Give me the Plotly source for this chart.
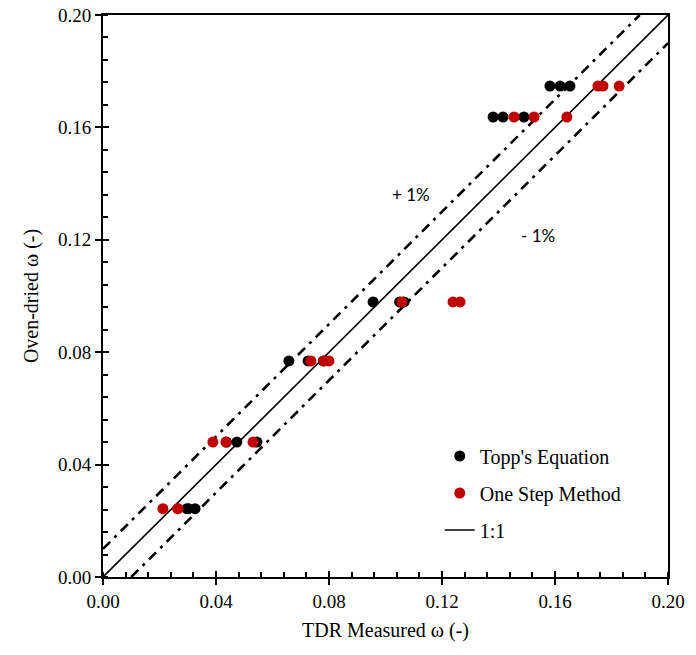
import plotly.graph_objects as go

# Oven-dried water content levels (y) for each sample group
oven_levels = [0.1747, 0.1637, 0.0979, 0.0769, 0.0480, 0.0243]

# TDR measured values, Topp's equation (3 per level)
topp_x = [
    0.1582, 0.1618, 0.1653,
    0.1381, 0.1416, 0.1490,
    0.0956, 0.1050, 0.1066,
    0.0658, 0.0726, 0.0780,
    0.0437, 0.0474, 0.0545,
    0.0297, 0.0303, 0.0326,
]
# TDR measured values, One Step Method (3 per level)
osm_x = [
    0.1752, 0.1770, 0.1827,
    0.1455, 0.1526, 0.1642,
    0.1058, 0.1239, 0.1264,
    0.0736, 0.0782, 0.0800,
    0.0389, 0.0435, 0.0531,
    0.0212, 0.0265, 0.0265,
]
topp_y = [v for v in oven_levels for _ in range(3)]
osm_y = [v for v in oven_levels for _ in range(3)]

axis_min, axis_max = 0.0, 0.20
band = 0.01
tick_vals = [0.00, 0.04, 0.08, 0.12, 0.16, 0.20]

serif = "'Liberation Serif', 'Times New Roman', Times, 'DejaVu Serif', serif"
BLACK = "#000000"
RED = "#C00000"

fig = go.Figure()

# 1:1 line
fig.add_trace(go.Scatter(
    x=[axis_min, axis_max], y=[axis_min, axis_max], mode="lines",
    line=dict(color=BLACK, width=1.6), name="1:1", legendrank=3,
    hoverinfo="skip", legendgroup="c",
))
# +1% line
fig.add_trace(go.Scatter(
    x=[axis_min, axis_max - band], y=[axis_min + band, axis_max], mode="lines",
    line=dict(color=BLACK, width=2.6, dash="10px,6px,3px,6px"),
    showlegend=False, hoverinfo="skip",
))
# -1% line
fig.add_trace(go.Scatter(
    x=[axis_min + band, axis_max], y=[axis_min, axis_max - band], mode="lines",
    line=dict(color=BLACK, width=2.6, dash="10px,6px,3px,6px"),
    showlegend=False, hoverinfo="skip",
))
fig.add_trace(go.Scatter(
    x=topp_x, y=topp_y, mode="markers", name="Topp's Equation",
    marker=dict(color=BLACK, size=11, line=dict(width=0)), legendrank=1,
    legendgroup="a",
))
fig.add_trace(go.Scatter(
    x=osm_x, y=osm_y, mode="markers", name="One Step Method",
    marker=dict(color=RED, size=11, line=dict(width=0)), legendrank=2,
    legendgroup="b",
))
# invisible trace to activate overlay axes (inside major ticks)
fig.add_trace(go.Scatter(
    x=[None], y=[None], xaxis="x2", yaxis="y2", showlegend=False,
    hoverinfo="skip", mode="markers",
))

fig.add_annotation(x=0.109, y=0.1363, text="+ 1%", showarrow=False,
                   font=dict(family="Lato", size=17, color=BLACK))
fig.add_annotation(x=0.154, y=0.1217, text="- 1%", showarrow=False,
                   font=dict(family="Lato", size=17, color=BLACK))

common_axis = dict(
    range=[axis_min, axis_max], showgrid=False, zeroline=False, automargin=False,
    showline=True, linecolor=BLACK, linewidth=2, mirror=True,
    ticks="outside", ticklen=6, tickwidth=2, tickcolor=BLACK,
    tickvals=tick_vals, tickformat=".2f",
    tickfont=dict(family=serif, size=19, color=BLACK),
    minor=dict(ticks="inside", ticklen=5, tickwidth=1.5, tickcolor=BLACK, dtick=0.008, showgrid=False),
)
overlay_axis = dict(
    range=[axis_min, axis_max], showgrid=False, zeroline=False, showline=False,
    automargin=False,
    ticks="inside", ticklen=6, tickwidth=2, tickcolor=BLACK,
    tickvals=tick_vals, showticklabels=False,
)

fig.update_layout(
    width=696, height=655,
    margin=dict(l=103, r=28, t=15, b=78),
    paper_bgcolor="white", plot_bgcolor="white",
    font=dict(family=serif, color=BLACK),
    showlegend=True,
    xaxis=dict(**common_axis,
               title=dict(text="TDR Measured ω (-)", font=dict(family=serif, size=20, color=BLACK), standoff=12)),
    yaxis=dict(**common_axis,
               title=dict(text="Oven-dried ω (-)", font=dict(family=serif, size=20, color=BLACK), standoff=14)),
    xaxis2=dict(**overlay_axis, overlaying="x", side="bottom"),
    yaxis2=dict(**overlay_axis, overlaying="y", side="left"),
    legend=dict(
        x=0.596, y=0.25, xanchor="left", yanchor="top",
        bgcolor="rgba(0,0,0,0)", borderwidth=0,
        font=dict(family=serif, size=20, color=BLACK),
        tracegroupgap=8, itemwidth=30,
    ),
)

fig.write_html("out.html")
